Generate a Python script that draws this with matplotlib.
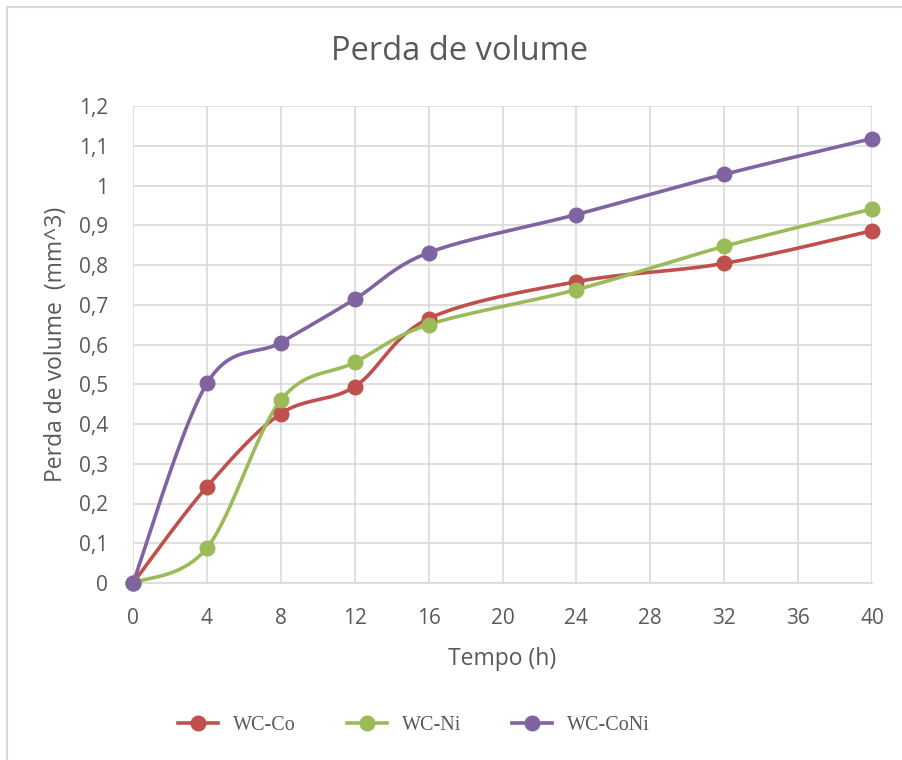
import numpy as np
import matplotlib
matplotlib.use("Agg")
import matplotlib.pyplot as plt
from matplotlib.ticker import FuncFormatter, MultipleLocator
from matplotlib.lines import Line2D

# Data
tempo = [0, 4, 8, 12, 16, 24, 32, 40]
wc_co = [0, 0.242, 0.426, 0.494, 0.665, 0.758, 0.804, 0.886]
wc_ni = [0, 0.088, 0.460, 0.555, 0.650, 0.738, 0.847, 0.941]
wc_coni = [0, 0.502, 0.605, 0.714, 0.831, 0.927, 1.028, 1.118]

series_names = ["WC-Co", "WC-Ni", "WC-CoNi"]
series_colors = ["#C0504D", "#9BBB59", "#8064A2"]

GRID = "#D9D9D9"
TEXT = "#595959"


# Excel-like smoothing: cubic Bezier segments with control points from neighbours
def smooth(x, y, n=40):
    pts = np.column_stack([x, y]).astype(float)
    out = [pts[0]]
    for i in range(len(pts) - 1):
        p0 = pts[i - 1] if i > 0 else pts[i]
        p1 = pts[i]
        p2 = pts[i + 1]
        p3 = pts[i + 2] if i + 2 < len(pts) else pts[i + 1]
        c1 = p1 + (p2 - p0) / 6.0
        c2 = p2 - (p3 - p1) / 6.0
        t = np.linspace(0, 1, n)[1:, None]
        seg = ((1 - t) ** 3) * p1 + 3 * ((1 - t) ** 2) * t * c1 + 3 * (1 - t) * t ** 2 * c2 + t ** 3 * p2
        out.extend(seg)
    out = np.array(out)
    return out[:, 0], out[:, 1]


fig = plt.figure(figsize=(9.02, 7.6), dpi=100)
ax = fig.add_axes([133 / 902, 1 - 583 / 760, 739 / 902, 477 / 760])

# outer chart border (only left and top edges are visible in the crop)
fig.lines.append(Line2D([6.5 / 902, 6.5 / 902], [0, 1 - 7 / 760], transform=fig.transFigure,
                        color=GRID, linewidth=1.5))
fig.lines.append(Line2D([6.5 / 902, 1], [1 - 7 / 760, 1 - 7 / 760], transform=fig.transFigure,
                        color=GRID, linewidth=1.5))

for name, vals, col in zip(series_names, [wc_co, wc_ni, wc_coni], series_colors):
    sx, sy = smooth(tempo, vals)
    ax.plot(sx, sy, color=col, linewidth=2.6, solid_capstyle="round", zorder=3)
    ax.plot(tempo, vals, linestyle="none", marker="o", markersize=10.5,
            color=col, zorder=4, clip_on=False)
    ax.plot([], [], color=col, linewidth=2.6, marker="o", markersize=10.5, label=name)

ax.set_xlim(0, 40)
ax.set_ylim(0, 1.2)
ax.xaxis.set_major_locator(MultipleLocator(4))
ax.yaxis.set_major_locator(MultipleLocator(0.1))
ax.yaxis.set_major_formatter(FuncFormatter(lambda v, p: f"{v:.1f}".rstrip("0").rstrip(".").replace(".", ",") if abs(v) > 1e-9 else "0"))

ax.grid(True, color=GRID, linewidth=1.2)
ax.set_axisbelow(True)
for s in ["top", "right", "left"]:
    ax.spines[s].set_visible(False)
ax.spines["bottom"].set_color(GRID)
ax.spines["bottom"].set_linewidth(1.2)
ax.tick_params(length=0, labelsize=15, labelcolor=TEXT)
ax.tick_params(axis="x", pad=18)
ax.tick_params(axis="y", pad=18)
for lab in ax.get_xticklabels() + ax.get_yticklabels():
    lab.set_fontfamily("Open Sans")

ax.set_xlabel("Tempo (h)", fontsize=16.5, color=TEXT, fontfamily="Open Sans", labelpad=13)
ax.set_ylabel("Perda de volume  (mm^3)", fontsize=16.5, color=TEXT, fontfamily="Open Sans", labelpad=8)

fig.text(460 / 902, 1 - 52 / 760, "Perda de volume", ha="center", va="center",
         fontsize=23.5, color=TEXT, fontfamily="Open Sans")

leg = fig.legend(loc="center", bbox_to_anchor=(414 / 902, 1 - 725 / 760), ncol=3,
                 frameon=False, prop={"family": "Liberation Serif", "size": 14.5},
                 handlelength=2.0, columnspacing=2.5, handletextpad=0.75)
for t in leg.get_texts():
    t.set_color(TEXT)

fig.savefig("out.png", dpi=100)
